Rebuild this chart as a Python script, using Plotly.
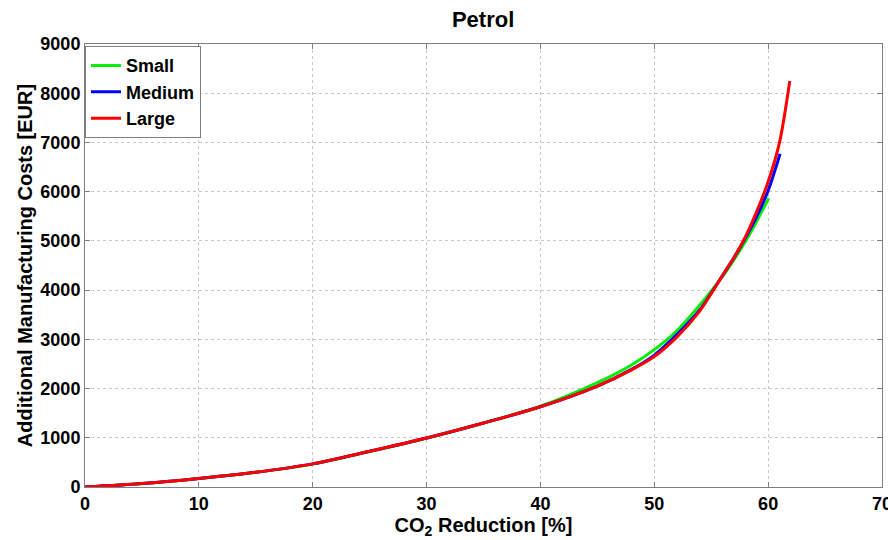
import plotly.graph_objects as go

# CO2 reduction [%]
x_small = [0, 5, 10, 15, 20, 25, 30, 35, 40, 45, 48, 50, 52, 54, 56, 57, 58, 59, 60.05]
y_small = [0, 70, 175, 300, 465, 720, 990, 1300, 1640, 2120, 2480, 2790, 3180, 3700, 4280, 4620, 4990, 5400, 5870]

x_medium = [0, 5, 10, 15, 20, 25, 30, 35, 40, 45, 48, 50, 52, 54, 56, 57, 58, 59, 60, 61.05]
y_medium = [0, 70, 175, 300, 470, 725, 995, 1300, 1630, 2050, 2390, 2680, 3100, 3600, 4300, 4660, 5060, 5500, 6020, 6770]

x_large = [0, 5, 10, 15, 20, 25, 30, 35, 40, 45, 48, 50, 52, 54, 56, 57, 58, 59, 60, 61, 61.9]
y_large = [0, 70, 175, 300, 470, 725, 995, 1300, 1630, 2050, 2380, 2650, 3050, 3580, 4300, 4660, 5080, 5600, 6200, 7000, 8250]

x_ticks = [0, 10, 20, 30, 40, 50, 60, 70]
y_ticks = [0, 1000, 2000, 3000, 4000, 5000, 6000, 7000, 8000, 9000]

FONT = "Liberation Sans, Arial, sans-serif"

fig = go.Figure()
fig.add_trace(go.Scatter(x=x_small, y=y_small, mode="lines", name="<b>Small</b>",
                         line=dict(color="#00ee00", width=3, shape="spline", smoothing=0.8)))
fig.add_trace(go.Scatter(x=x_medium, y=y_medium, mode="lines", name="<b>Medium</b>",
                         line=dict(color="#0000ff", width=3, shape="spline", smoothing=0.8)))
fig.add_trace(go.Scatter(x=x_large, y=y_large, mode="lines", name="<b>Large</b>",
                         line=dict(color="#ff0000", width=3, shape="spline", smoothing=0.8)))

axis_common = dict(
    showline=True, linecolor="#7f7f7f", linewidth=1, mirror="ticks",
    ticks="inside", ticklen=5, tickcolor="#7f7f7f",
    showgrid=True, gridcolor="#c8c8c8", griddash="dot", gridwidth=1,
    zeroline=False, automargin=False,
    tickfont=dict(family=FONT, size=18, color="black", weight="bold"),
)

fig.update_layout(
    width=888, height=540,
    margin=dict(l=85, r=6, t=44, b=53),
    paper_bgcolor="white", plot_bgcolor="white",
    title=dict(text="<b>Petrol</b>", x=0.544, xanchor="center", y=0.965, yanchor="middle",
               font=dict(family=FONT, size=22, color="black")),
    xaxis=dict(range=[0, 70], tickvals=x_ticks, ticklabeloverflow="allow",
               title=dict(text="<b>CO<sub>2</sub> Reduction [%]</b>", standoff=4,
                          font=dict(family=FONT, size=20, color="black")),
               **axis_common),
    yaxis=dict(range=[0, 9000], tickvals=y_ticks,
               title=dict(text="<b>Additional Manufacturing Costs [EUR]</b>", standoff=2,
                          font=dict(family=FONT, size=20, color="black")),
               **axis_common),
    legend=dict(x=0.0, y=0.995, xanchor="left", yanchor="top",
                bgcolor="white", bordercolor="#7f7f7f", borderwidth=1,
                font=dict(family=FONT, size=18, color="black"),
                tracegroupgap=0, itemwidth=30),
    showlegend=True,
)

fig.write_html("out.html")
